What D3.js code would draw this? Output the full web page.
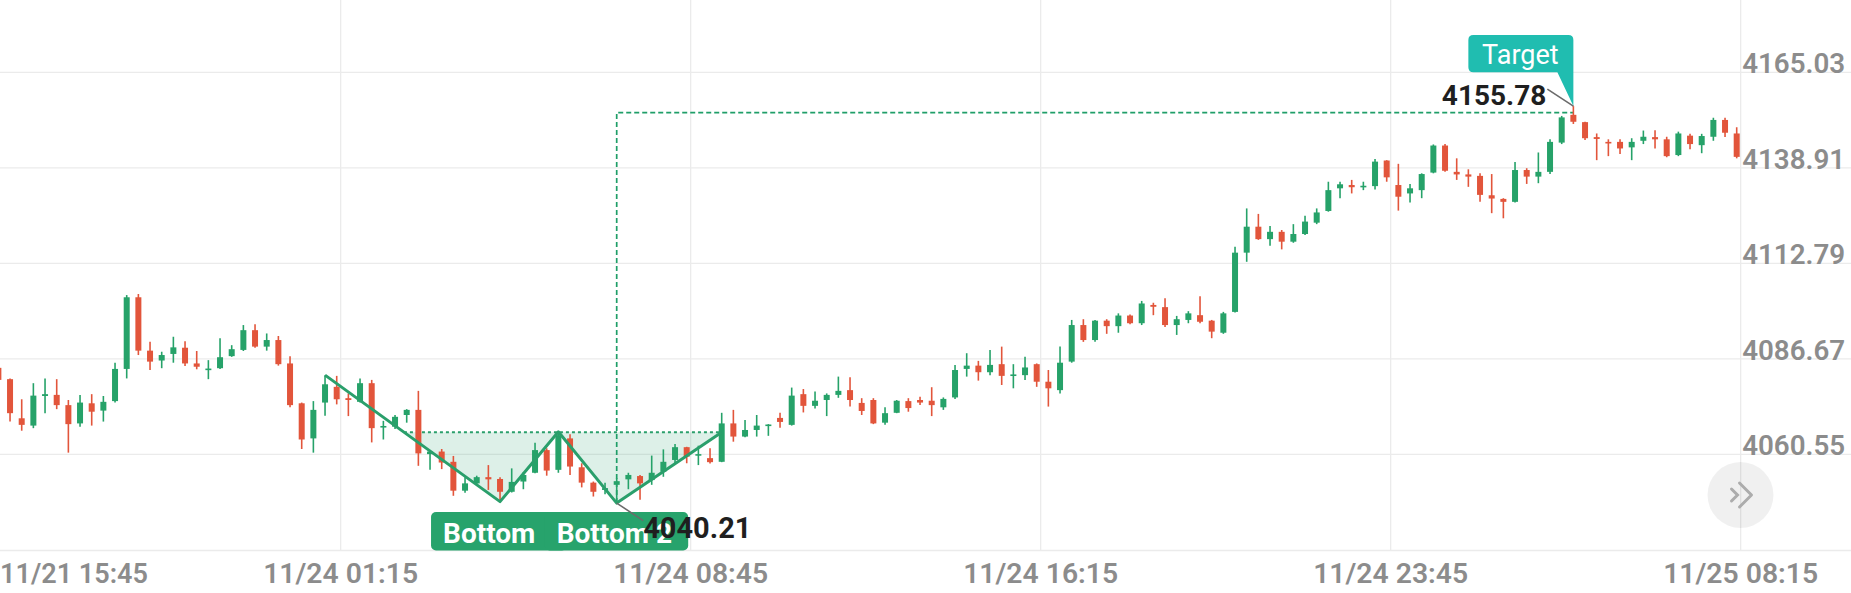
<!DOCTYPE html>
<html><head><meta charset="utf-8">
<script src="https://cdn.jsdelivr.net/npm/d3@7"></script>
<style>
html,body{margin:0;padding:0;background:#fff;}
svg{display:block;font-family:Roboto,"Noto Sans",sans-serif;}
</style>
</head><body>
<svg id="chart" width="1851" height="593"></svg>
<script>
// ---- data (15-minute candles) ----
const opens = [4084.2,4081.1,4070.4,4068.4,4076.5,4076.8,4074.0,4069.0,4074.5,4072.5,
4075.1,4083.9,4103.5,4088.9,4086.2,4088.0,4089.7,4085.4,4083.8,4084.1,
4087.4,4089.1,4094.5,4090.0,4091.8,4085.4,4074.5,4064.9,4074.7,4079.0,
4075.9,4074.9,4080.0,4067.9,4068.1,4071.3,4072.7,4060.6,4061.3,4058.5,
4050.6,4052.6,4054.3,4053.8,4050.3,4053.1,4055.5,4061.7,4056.3,4064.9,
4057.0,4052.8,4050.8,4052.2,4053.7,4054.6,4053.5,4055.8,4059.0,4062.5,
4060.4,4059.5,4058.5,4069.0,4065.4,4067.2,4068.4,4070.5,4068.6,4077.0,
4073.8,4075.4,4076.8,4078.1,4074.6,4075.4,4069.2,4071.9,4075.1,4075.4,
4075.2,4073.4,4076.1,4083.9,4084.8,4083.0,4085.2,4082.0,4082.2,4085.2,
4080.4,4078.1,4085.9,4095.9,4091.8,4097.1,4095.6,4098.5,4096.4,4101.4,
4100.8,4095.9,4097.3,4098.6,4097.1,4093.8,4099.5,4115.7,4122.8,4119.4,
4121.4,4118.7,4120.8,4123.9,4127.1,4133.3,4134.2,4133.6,4133.9,4140.9,
4134.2,4131.9,4132.8,4137.6,4145.0,4137.8,4137.1,4136.7,4131.4,4130.4,
4129.6,4138.3,4136.5,4137.8,4145.8,4153.4,4151.4,4147.3,4146.0,4146.0,
4144.5,4146.3,4147.3,4146.7,4142.4,4147.7,4145.1,4147.4,4152.0,4148.3];
const highs = [4085.0,4081.3,4075.6,4080.0,4081.3,4081.1,4075.4,4076.8,4077.0,4076.5,
4085.6,4104.1,4104.4,4091.3,4088.6,4092.7,4091.5,4088.8,4086.3,4092.3,
4090.4,4095.9,4096.1,4093.6,4092.9,4087.4,4074.7,4075.1,4082.2,4082.0,
4077.2,4081.3,4080.9,4069.7,4071.3,4072.9,4077.9,4061.7,4062.0,4060.1,
4054.3,4054.7,4057.6,4054.3,4056.7,4055.6,4063.7,4062.2,4066.7,4066.0,
4058.1,4053.1,4052.8,4054.0,4055.5,4054.9,4060.2,4061.9,4063.4,4062.6,
4062.9,4062.2,4071.9,4072.7,4069.9,4071.3,4068.8,4071.9,4078.8,4078.4,
4077.7,4077.2,4081.8,4081.6,4075.9,4075.9,4073.4,4075.4,4075.9,4076.3,
4078.9,4076.1,4085.0,4088.2,4086.1,4089.1,4090.0,4085.2,4087.2,4085.4,
4083.6,4090.0,4097.3,4097.5,4097.3,4097.5,4099.1,4098.8,4102.5,4102.0,
4103.2,4098.4,4099.7,4103.8,4097.3,4099.5,4117.3,4127.8,4126.3,4123.0,
4121.9,4123.5,4125.8,4127.8,4135.1,4135.1,4135.6,4135.1,4141.3,4141.0,
4140.0,4134.5,4137.4,4145.3,4145.4,4141.5,4138.5,4137.4,4137.2,4130.6,
4140.5,4138.8,4143.1,4146.7,4153.1,4155.78,4151.5,4148.3,4146.7,4146.7,
4147.0,4149.1,4149.2,4147.4,4148.8,4148.2,4148.2,4152.6,4152.6,4150.0];
const lows = [4080.1,4069.5,4067.0,4067.7,4071.8,4072.9,4061.0,4068.1,4068.4,4069.5,
4074.7,4081.3,4087.7,4083.6,4084.1,4085.6,4084.7,4083.8,4081.1,4083.9,
4087.2,4088.8,4089.7,4088.9,4084.8,4073.4,4062.0,4061.0,4071.1,4074.2,
4071.0,4074.7,4063.8,4064.6,4067.5,4069.2,4057.4,4056.3,4056.5,4049.2,
4050.0,4052.4,4050.8,4047.6,4050.1,4051.0,4055.4,4054.7,4055.5,4054.9,
4051.5,4049.0,4049.6,4047.2,4051.0,4048.1,4052.2,4054.4,4058.1,4058.1,
4057.6,4058.0,4058.4,4064.0,4065.2,4065.4,4065.6,4067.8,4068.4,4072.0,
4073.1,4071.0,4076.0,4073.6,4071.3,4068.8,4068.6,4071.8,4072.2,4074.0,
4071.0,4072.7,4075.7,4081.8,4080.7,4082.2,4079.5,4078.6,4080.9,4079.0,
4073.6,4077.2,4085.6,4091.3,4091.3,4093.5,4093.8,4096.1,4095.9,4098.6,
4095.4,4093.2,4096.4,4096.4,4092.3,4093.5,4099.3,4113.2,4119.2,4117.6,
4116.6,4118.4,4120.5,4123.5,4126.9,4130.6,4131.9,4132.8,4133.0,4135.1,
4127.2,4129.4,4130.6,4137.4,4137.8,4135.6,4133.7,4129.6,4126.5,4125.1,
4129.4,4134.5,4134.7,4137.2,4145.4,4150.9,4146.5,4141.0,4142.1,4142.7,
4141.0,4145.4,4144.2,4141.8,4142.1,4144.0,4142.9,4146.3,4147.3,4141.5];
const closes = [4080.9,4071.8,4068.6,4076.6,4077.0,4074.0,4068.8,4074.7,4072.2,4074.9,
4083.9,4103.5,4088.9,4085.9,4087.7,4089.8,4085.4,4084.5,4084.0,4087.1,
4089.3,4094.5,4090.0,4091.8,4085.2,4074.0,4064.6,4072.7,4079.7,4075.6,
4075.4,4080.0,4067.7,4068.3,4070.8,4072.7,4060.8,4061.3,4058.3,4050.6,
4052.6,4054.3,4053.7,4050.3,4053.0,4054.9,4061.7,4056.1,4065.8,4057.2,
4052.8,4050.3,4051.3,4053.2,4054.9,4052.6,4055.5,4058.5,4062.5,4059.9,
4060.6,4058.4,4069.0,4065.4,4067.2,4068.4,4068.7,4069.4,4076.6,4073.8,
4075.2,4076.8,4077.9,4075.4,4072.4,4069.0,4071.8,4075.2,4073.2,4074.7,
4074.0,4075.7,4083.6,4084.8,4083.0,4085.0,4082.0,4082.4,4084.3,4080.4,
4078.6,4085.6,4095.9,4091.8,4097.1,4095.6,4098.5,4096.4,4101.8,4100.9,
4095.9,4097.5,4099.1,4096.8,4094.1,4099.1,4115.7,4122.8,4119.4,4121.4,
4118.7,4120.8,4124.2,4126.7,4132.8,4134.4,4133.6,4134.0,4140.6,4136.3,
4131.0,4133.3,4137.2,4145.0,4138.1,4137.1,4136.5,4131.5,4130.5,4129.6,
4138.3,4136.5,4137.8,4146.0,4152.7,4151.5,4147.0,4146.8,4145.8,4144.2,
4146.0,4147.4,4146.7,4142.1,4148.3,4145.4,4147.6,4152.0,4148.5,4141.9];

// axis ticks
const yTickValues = [4060.55, 4086.67, 4112.79, 4138.91, 4165.03];
const xTickIndex  = [29, 59, 89, 119, 149];
const xTickLabels = ["11/24 01:15", "11/24 08:45", "11/24 16:15", "11/24 23:45", "11/25 08:15"];
const firstLabel  = "11/21 15:45";

// double-bottom pattern annotation
const zigIndex  = [28, 43, 48, 53, 62];
const zigValue  = [4082.2, 4047.6, 4066.7, 4047.2, 4066.6];
const necklineValue = 4066.6;
const targetIndex = 135;
const targetLevel = 4154.0;
const bottomLabels = ["Bottom", "Bottom 2"];
const targetText = "Target";
const highText = "4155.78";
const lowText = "4040.21";

// ---- layout / style ----
const W = 1851, H = 593;
const plotBottom = 550.5;
const UP = "#26a269", DOWN = "#e2553b", LINE_G = "#2a9f6b", TEAL = "#20bdb0";
const GRID = "#ebebeb", AXIS_TXT = "#8c8c8c";
const TICK_SHIFT = 0.34;

const svg = d3.select("#chart");
svg.append("rect").attr("width", W).attr("height", H).attr("fill", "#fff");

const x = d3.scaleLinear().domain([0, 149]).range([-1.63, 1736.7]);
const y = d3.scaleLinear().domain([4060.55, 4165.03]).range([454.3, 72.3]);

// grid
const grid = svg.append("g");
yTickValues.forEach(v => {
  grid.append("line").attr("x1", 0).attr("x2", W)
    .attr("y1", y(v)).attr("y2", y(v)).attr("stroke", GRID).attr("stroke-width", 1.3);
});
grid.append("line").attr("x1", 0).attr("x2", W).attr("y1", plotBottom).attr("y2", plotBottom)
  .attr("stroke", GRID).attr("stroke-width", 1.3);
xTickIndex.forEach(i => {
  const gx = x(i + TICK_SHIFT);
  grid.append("line").attr("x1", gx).attr("x2", gx).attr("y1", 0).attr("y2", plotBottom)
    .attr("stroke", GRID).attr("stroke-width", 1.3);
});

// y labels
const yl = svg.append("g").attr("font-size", 28).attr("font-weight", 600).attr("fill", AXIS_TXT);
yTickValues.forEach(v => {
  yl.append("text").attr("x", x(149 + TICK_SHIFT) + 1.5).attr("y", y(v) + 1)
    .attr("textLength", 103).attr("lengthAdjust", "spacingAndGlyphs").text(v.toFixed(2));
});
// x labels
const xl = svg.append("g").attr("font-size", 28).attr("font-weight", 600).attr("fill", AXIS_TXT);
xl.append("text").attr("x", 0).attr("y", 583.3).attr("textLength", 148)
  .attr("lengthAdjust", "spacingAndGlyphs").text(firstLabel);
xTickIndex.forEach((i, k) => {
  xl.append("text").attr("x", x(i + TICK_SHIFT) - 77.5).attr("y", 583.3)
    .attr("textLength", 155).attr("lengthAdjust", "spacingAndGlyphs").text(xTickLabels[k]);
});

// pattern shading (between neckline and zig-zag)
const zp = zigIndex.map((i, k) => [x(i), y(zigValue[k])]);
const ny = y(necklineValue);
const t0 = (ny - zp[0][1]) / (zp[1][1] - zp[0][1]);
const crossX = zp[0][0] + t0 * (zp[1][0] - zp[0][0]);
const shade = [[crossX, ny], zp[1], zp[2], zp[3], zp[4]];
svg.append("path").attr("d", d3.line()(shade) + "Z")
  .attr("fill", "rgba(42,163,111,0.16)");
svg.append("line").attr("x1", crossX).attr("x2", zp[4][0]).attr("y1", ny).attr("y2", ny)
  .attr("stroke", LINE_G).attr("stroke-width", 2).attr("stroke-dasharray", "3,3");

// target dashed lines
const ty = y(targetLevel);
svg.append("path")
  .attr("d", `M${zp[3][0]},${zp[3][1]}V${ty}H${x(targetIndex)}`)
  .attr("fill", "none").attr("stroke", "#1f9e68").attr("stroke-width", 1.7)
  .attr("stroke-dasharray", "5,3");

// candles
const cg = svg.append("g");
opens.forEach((o, i) => {
  const c = closes[i], col = c >= o ? UP : DOWN;
  const cx = x(i);
  cg.append("line").attr("x1", cx).attr("x2", cx).attr("y1", y(highs[i])).attr("y2", y(lows[i]))
    .attr("stroke", col).attr("stroke-width", 1.6);
  const top = y(Math.max(o, c)), bot = y(Math.min(o, c));
  cg.append("rect").attr("x", cx - 3).attr("width", 6)
    .attr("y", top).attr("height", Math.max(1.6, bot - top)).attr("fill", col);
});

// zig-zag line
svg.append("path").attr("d", d3.line()(zp)).attr("fill", "none")
  .attr("stroke", LINE_G).attr("stroke-width", 3).attr("stroke-linejoin", "round");

// bottom labels
const boxTop = 512, boxH = 38.5;
const boxes = [
  {cx: zp[1][0], left: -69, right: 67, text: bottomLabels[0]},
  {cx: zp[3][0], left: -72, right: 71.5, text: bottomLabels[1]}
];
boxes.forEach(b => {
  svg.append("rect").attr("x", b.cx + b.left).attr("y", boxTop)
    .attr("width", b.right - b.left).attr("height", boxH).attr("rx", 5).attr("fill", "#27a36c");
  svg.append("text").attr("x", b.cx + b.left + 12).attr("y", 542.7)
    .attr("font-size", 28).attr("font-weight", 700).attr("fill", "#fff").text(b.text);
});

// low value label
svg.append("line").attr("x1", zp[3][0]).attr("y1", zp[3][1])
  .attr("x2", zp[3][0] + 26.5).attr("y2", zp[3][1] + 17.5)
  .attr("stroke", "#6b6b6b").attr("stroke-width", 1.6);
svg.append("text").attr("x", zp[3][0] + 26.5).attr("y", zp[3][1] + 35)
  .attr("font-size", 29).attr("font-weight", 700).attr("fill", "#1f1f1f").text(lowText);

// target bubble
const tx = x(targetIndex), tipY = y(highs[targetIndex]);
const bL = tx - 105, bT = 35, bB = 72.3, r = 5;
svg.append("path").attr("d",
  `M${bL + r},${bT}H${tx - r}Q${tx},${bT} ${tx},${bT + r}V${tipY}L${tx - 16},${bB}H${bL + r}Q${bL},${bB} ${bL},${bB - r}V${bT + r}Q${bL},${bT} ${bL + r},${bT}Z`)
  .attr("fill", TEAL);
svg.append("text").attr("x", bL + 52).attr("y", 63.5).attr("text-anchor", "middle")
  .attr("font-size", 27).attr("font-weight", 400).attr("fill", "#fff").text(targetText);
svg.append("line").attr("x1", tx - 26).attr("y1", tipY - 17).attr("x2", tx).attr("y2", tipY)
  .attr("stroke", "#6b6b6b").attr("stroke-width", 1.6);
svg.append("text").attr("x", tx - 27).attr("y", tipY - 1).attr("text-anchor", "end")
  .attr("font-size", 28).attr("font-weight", 700).attr("fill", "#1f1f1f").text(highText);

// scroll-to-latest button
const btn = svg.append("g").attr("transform", "translate(1740.5,495)");
btn.append("circle").attr("r", 33).attr("fill", "rgba(0,0,0,0.06)");
btn.append("path").attr("d", "M-9,-6L-3,0L-9,6").attr("fill", "none")
  .attr("stroke", "#acacac").attr("stroke-width", 3).attr("stroke-linecap", "round");
btn.append("path").attr("d", "M-1,-12L11,0L-1,12").attr("fill", "none")
  .attr("stroke", "#acacac").attr("stroke-width", 3).attr("stroke-linecap", "round").attr("stroke-linejoin", "round");
</script>
</body></html>
